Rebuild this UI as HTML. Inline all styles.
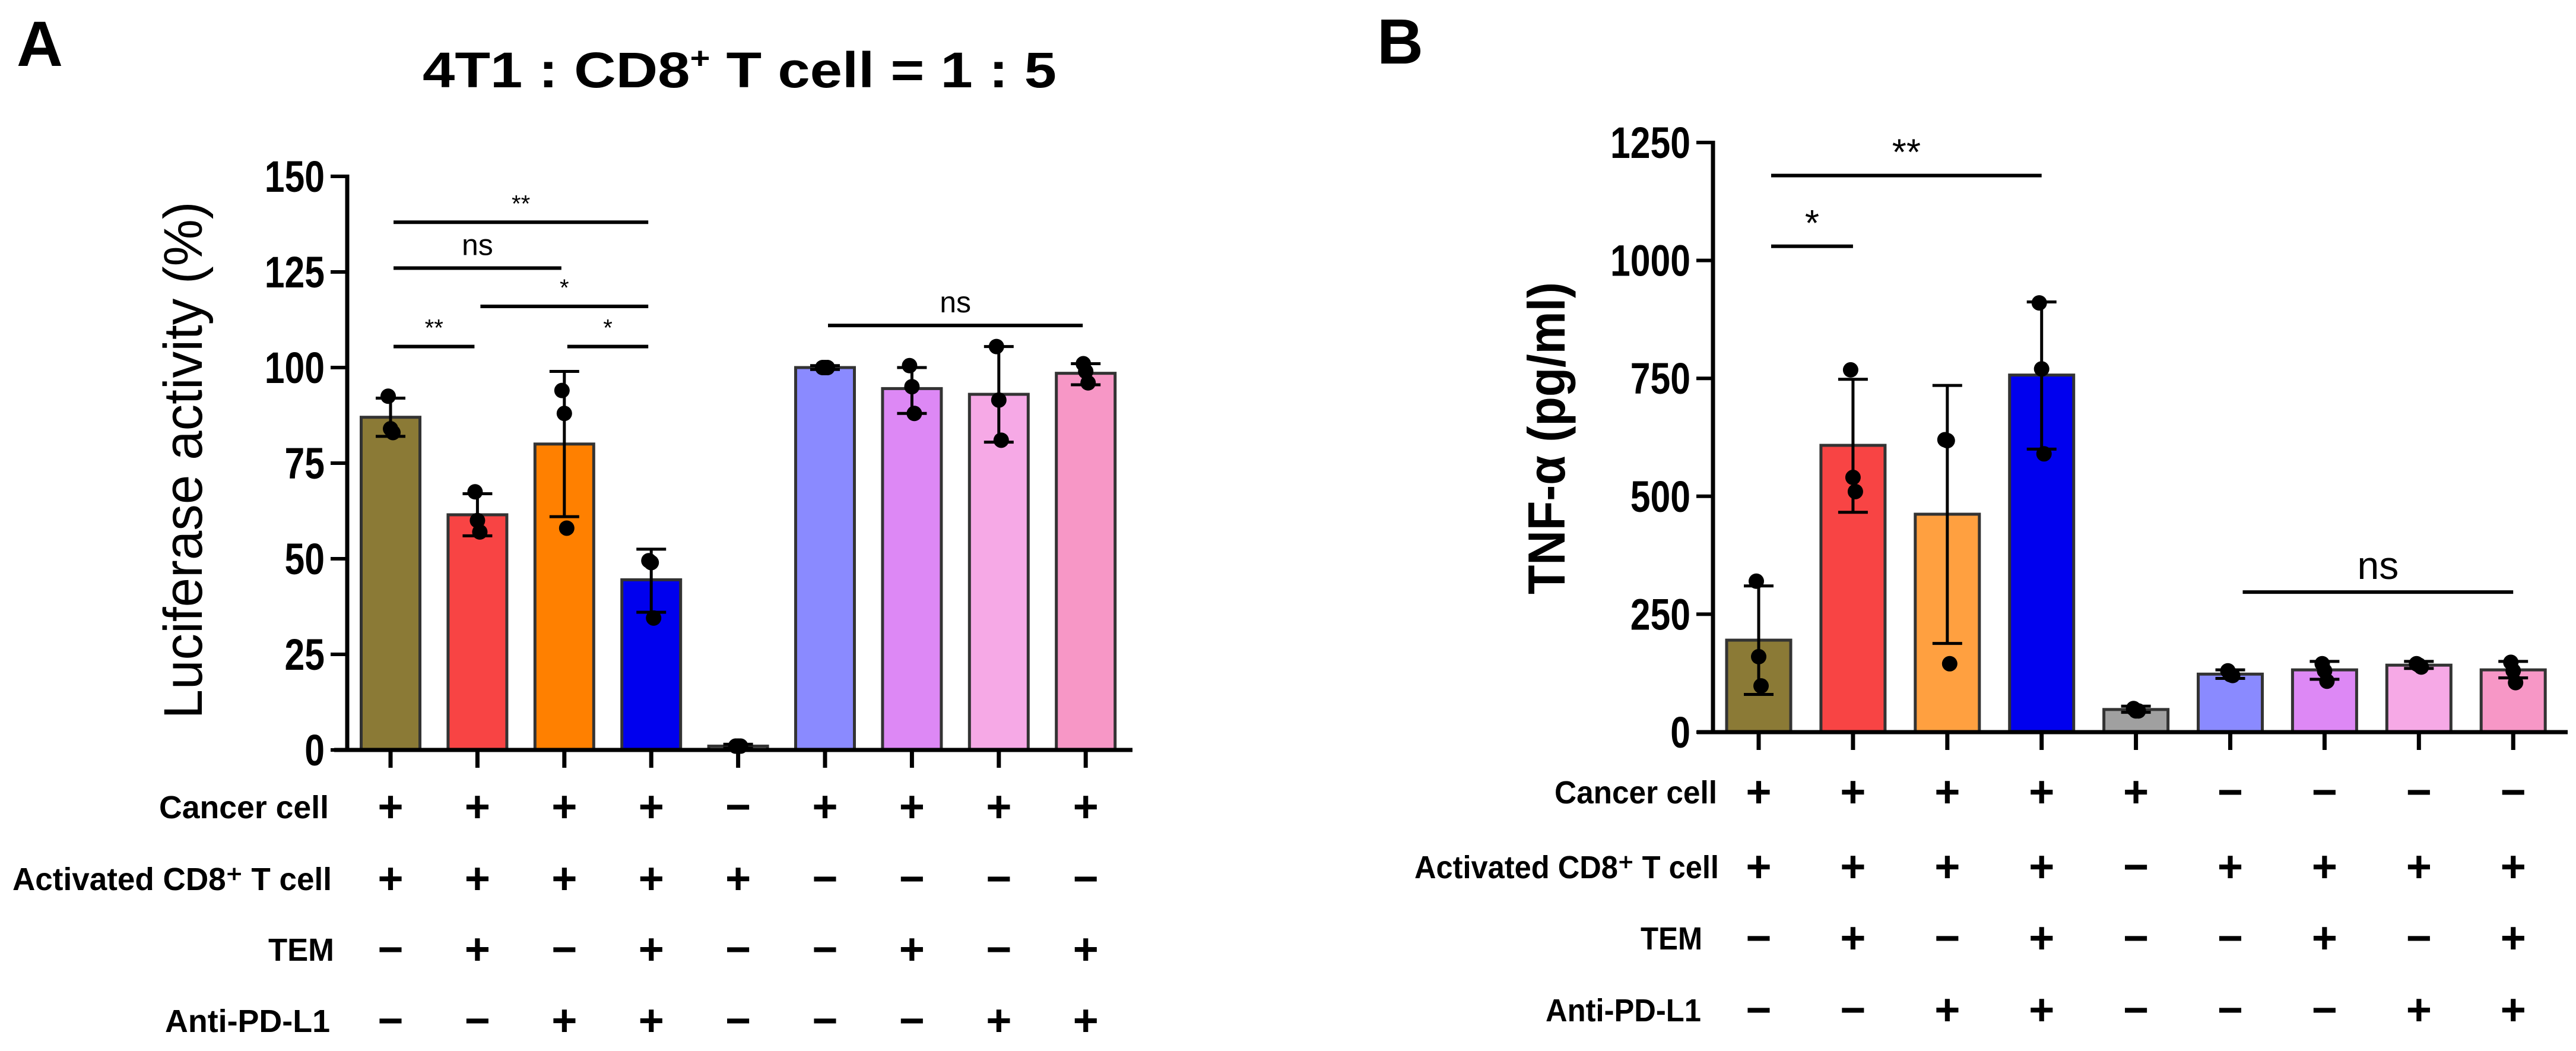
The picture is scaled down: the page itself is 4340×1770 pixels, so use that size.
<!DOCTYPE html>
<html><head><meta charset="utf-8"><style>
html,body{margin:0;padding:0;background:#fff;}
svg{display:block;font-family:"Liberation Sans",Arial,sans-serif;}
</style></head><body>
<svg id="fig" width="4340" height="1770" viewBox="0 0 4340 1770" xmlns="http://www.w3.org/2000/svg">
<text x="28" y="111" font-size="108" font-weight="bold">A</text>
<text x="2320" y="107" font-size="108" font-weight="bold">B</text>
<text x="712" y="147" font-size="84" font-weight="bold" textLength="1068" lengthAdjust="spacingAndGlyphs">4T1 : CD8<tspan font-size="50" dy="-32">+</tspan><tspan dy="32"> T cell = 1  :  5</tspan></text>
<g id="A"></g><g id="B"></g>
</svg>
<script>
// ---- Panel A data ----
const aValues=[87,61.5,80,44.5,1,100,94.5,93,98.5];
const aErrHi=[92,67,99,52.5,1.5,100.5,100,105.5,101];
const aErrLo=[82,56,61,36,0.5,99.5,88,80.5,95.5];
const aPoints=[[92.5,84,83],[67.5,60,57],[94,88,58],[49.5,49,34.5],[1,1,1],[100,100,100],[100.5,95,88],[105.5,91.5,81],[101,99,96]];
const aTicks=[0,25,50,75,100,125,150];
const aColors=["#8B7A36","#F84444","#FF8000","#0000EE","#AAAAAA","#8A8AFF","#DD88F5","#F6A9E6","#F797C6"];
const aSig=[{a:0,b:3,y:138,t:"**"},{a:0,b:2,y:126,t:"ns"},{a:1,b:3,y:116,t:"*"},{a:0,b:1,y:105.5,t:"**"},{a:2,b:3,y:105.5,t:"*"},{a:5,b:8,y:111,t:"ns"}];
const aRowNames=["Cancer cell","Activated CD8\u207A T cell","TEM","Anti-PD-L1"];
const aRows=[[1,1,1,1,0,1,1,1,1],[1,1,1,1,1,0,0,0,0],[0,1,0,1,0,0,1,0,1],[0,0,1,1,0,0,0,1,1]];
// ---- Panel B data ----
const bValues=[195,608,462,757,48,123,132,142,132];
const bErrHi=[310,748,735,912,55,132,150,150,150];
const bErrLo=[80,466,188,600,42,114,112,135,115];
const bPoints=[[320,160,98],[768,540,510],[620,618,145],[910,770,590],[50,45,45],[130,122,120],[145,130,108],[145,142,138],[148,130,105]];
const bTicks=[0,250,500,750,1000,1250];
const bColors=["#8B7A36","#F84444","#FFA040","#0000EE","#A0A0A0","#8A8AFF","#DD88F5","#F6A9E6","#F797C6"];
const bSig=[{a:0,b:3,y:1180,t:"**"},{a:0,b:1,y:1030,t:"*"},{a:5,b:8,y:297,t:"ns"}];
const bRowNames=["Cancer cell","Activated CD8\u207A T cell","TEM","Anti-PD-L1"];
const bRows=[[1,1,1,1,1,0,0,0,0],[1,1,1,1,0,1,1,1,1],[0,1,0,1,0,0,1,0,1],[0,0,1,1,0,0,0,1,1]];

const NS="http://www.w3.org/2000/svg";
function mk(parent,tag,attrs,txt){const e=document.createElementNS(NS,tag);for(const k in attrs)e.setAttribute(k,attrs[k]);if(txt!==undefined)e.textContent=txt;parent.appendChild(e);return e;}

function panel(g,cfg){
  const y=v=>cfg.y0-(v-cfg.vmin)/(cfg.vmax-cfg.vmin)*(cfg.y0-cfg.y1);
  const x=i=>cfg.xc0+i*cfg.dx;
  cfg.values.forEach((v,i)=>{
    const r=mk(g,'rect',{x:x(i)-cfg.bw/2,y:y(v),width:cfg.bw,height:Math.max(1,cfg.y0-y(v)),fill:cfg.colors[i],stroke:'#333',"stroke-width":5});
    
    
  });
  cfg.values.forEach((v,i)=>{
    const e=mk(g,'path',{d:`M${x(i)},${y(cfg.hi[i])}V${y(cfg.lo[i])}M${x(i)-25},${y(cfg.hi[i])}H${x(i)+25}M${x(i)-25},${y(cfg.lo[i])}H${x(i)+25}`,stroke:'#000',"stroke-width":5,fill:'none'});
    
    
  });
  cfg.points.forEach((ps,i)=>{ps.forEach((p,j)=>{
    const c=mk(g,'circle',{cx:x(i)+(j-1)*4,cy:y(p),r:13,fill:'#000'});
    
    
  });});
  const ax=mk(g,'path',{d:`M${cfg.ax},${cfg.y1-3}V${cfg.y0}M${cfg.xa0},${cfg.y0}H${cfg.xa1}`,stroke:'#000',"stroke-width":7,fill:'none'});
  
  
  cfg.ticks.forEach(t=>{
    mk(g,'line',{x1:cfg.ax-28,x2:cfg.ax,y1:y(t),y2:y(t),stroke:'#000',"stroke-width":6});
    const tl=mk(g,'text',{x:cfg.ax-38,y:y(t)+26,"font-size":74,"font-weight":'bold',"text-anchor":'end',transform:`translate(${cfg.ax-38},0) scale(0.82,1) translate(${-(cfg.ax-38)},0)`},String(t));
    
    
  });
  cfg.values.forEach((v,i)=>{mk(g,'line',{x1:x(i),x2:x(i),y1:cfg.y0,y2:cfg.y0+30,stroke:'#000',"stroke-width":7});});
  const yt=mk(g,'text',{x:0,y:0,"font-size":cfg.ytSize,"font-weight":cfg.ytWeight,"text-anchor":'middle',textLength:cfg.ytLen,lengthAdjust:'spacingAndGlyphs',transform:`translate(${cfg.ytx},${cfg.yty}) rotate(-90)`},cfg.ytitle);
  
  
  cfg.sig.forEach(s=>{
    const x1=x(s.a)+cfg.sigPad[0],x2=x(s.b)+cfg.sigPad[1];
    const l=mk(g,'line',{x1:x1,x2:x2,y1:y(s.y),y2:y(s.y),stroke:'#000',"stroke-width":6});
    
    
    const big=s.t==='ns'?cfg.nsSize:cfg.starSize;
    const st=mk(g,'text',{x:(x1+x2)/2,y:y(s.y)-(s.t==='ns'?cfg.nsOff:cfg.starOff),"font-size":big,"text-anchor":'middle',"font-weight":cfg.sigWeight},s.t);
    
    
  });
  cfg.rowNames.forEach((n,r)=>{
    const ry=cfg.rowY[r];
    const lb=mk(g,'text',{x:cfg.rowLX[r][1],y:ry+18,"font-size":54,"font-weight":'bold',"text-anchor":'end',textLength:cfg.rowLX[r][1]-cfg.rowLX[r][0],lengthAdjust:'spacingAndGlyphs'},n);
    
    
    cfg.rows[r].forEach((on,i)=>{
      const sg=mk(g,'text',{x:x(i),y:ry+24,"font-size":74,"font-weight":'bold',"text-anchor":'middle'},on?'+':'\u2212');
      
      
    });
  });
}

panel(document.getElementById('A'),{values:aValues,hi:aErrHi,lo:aErrLo,points:aPoints,ticks:aTicks,colors:aColors,sig:aSig,
  rowNames:aRowNames,rows:aRows,vmin:0,vmax:150,y0:1263,y1:297,xc0:658,dx:146.4,bw:99,ax:585,xa0:563,xa1:1908,
  ytitle:"Luciferase activity  (%)",ytx:340,yty:775,ytSize:92,ytWeight:'normal',ytLen:871,
  sigPad:[5,-5],nsSize:50,starSize:40,nsOff:22,starOff:18,sigWeight:'normal',
  rowY:[1360,1481,1600,1720],rowLX:[[268,554],[21,559],[452,563],[278,556]]});
panel(document.getElementById('B'),{values:bValues,hi:bErrHi,lo:bErrLo,points:bPoints,ticks:bTicks,colors:bColors,sig:bSig,
  rowNames:bRowNames,rows:bRows,vmin:0,vmax:1250,y0:1233,y1:240,xc0:2963,dx:158.9,bw:108,ax:2886,xa0:2859,xa1:4326,
  ytitle:"TNF-\u03B1 (pg/ml)",ytx:2636,yty:738,ytSize:88,ytWeight:'bold',ytLen:526,
  sigPad:[21,0],nsSize:66,starSize:62,nsOff:22,starOff:18,sigWeight:'normal',
  rowY:[1335,1461,1581,1702],rowLX:[[2619,2893],[2383,2896],[2764,2868],[2604,2866]]});
</script>
</body></html>
